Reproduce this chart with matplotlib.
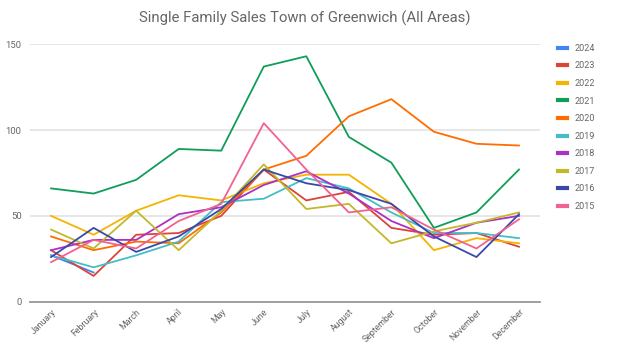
import numpy as np
import matplotlib.pyplot as plt

# ------------------------------------------------------------
# Data (monthly single family sales)
# ------------------------------------------------------------
months = ["January", "February", "March", "April", "May", "June",
          "July", "August", "September", "October", "November", "December"]

years = ["2024", "2023", "2022", "2021", "2020",
         "2019", "2018", "2017", "2016", "2015"]

sales_2024 = [27, 17]
sales_2023 = [30, 15, 39, 40, 50, 77, 59, 64, 43, 39, 40, 32]
sales_2022 = [50, 39, 53, 62, 59, 69, 74, 74, 57, 30, 37, 34]
sales_2021 = [66, 63, 71, 89, 88, 137, 143, 96, 81, 43, 52, 77]
sales_2020 = [38, 30, 35, 34, 52, 77, 85, 108, 118, 99, 92, 91]
sales_2019 = [27, 20, 27, 35, 58, 60, 72, 66, 52, 40, 40, 37]
sales_2018 = [30, 36, 36, 51, 55, 68, 76, 63, 47, 37, 46, 50]
sales_2017 = [42, 31, 53, 30, 53, 80, 54, 57, 34, 41, 46, 52]
sales_2016 = [26, 43, 29, 38, 54, 77, 69, 65, 57, 38, 26, 51]
sales_2015 = [23, 36, 31, 47, 57, 104, 77, 52, 55, 42, 31, 48]

series = [sales_2024, sales_2023, sales_2022, sales_2021, sales_2020,
          sales_2019, sales_2018, sales_2017, sales_2016, sales_2015]

colors = ["#4285f4", "#db4437", "#f4b400", "#0f9d58", "#ff6d01",
          "#46bdc6", "#ab30c4", "#c2b82a", "#3949ab", "#f06292"]

# ------------------------------------------------------------
# Plot
# ------------------------------------------------------------
plt.rcParams["font.family"] = ["Roboto", "DejaVu Sans"]

fig = plt.figure(figsize=(6.21, 3.57), dpi=100)
ax = fig.add_axes([0.048, 0.155, 0.822, 0.721])

x = np.arange(len(months))
lines = []
for year, vals, col in zip(years, series, colors):
    ln, = ax.plot(x[:len(vals)], vals, color=col, lw=1.3, label=year)
    lines.append(ln)

ax.set_xlim(-0.5, 11.5)
ax.set_ylim(0, 150)
ax.set_yticks([0, 50, 100, 150])
ax.set_xticks(x)
ax.set_xticklabels(months, rotation=45, ha="right", rotation_mode="anchor",
                   fontsize=6.3, color="#666666")
ax.tick_params(axis="y", labelsize=6.8, labelcolor="#666666", length=0, pad=6)
ax.tick_params(axis="x", length=0, pad=4)

ax.grid(axis="y", color="#e0e0e0", lw=1.1)
ax.set_axisbelow(True)
for side in ["top", "right", "left"]:
    ax.spines[side].set_visible(False)
ax.spines["bottom"].set_color("#999999")
ax.spines["bottom"].set_linewidth(1.3)

fig.text(0.49, 0.95, "Single Family Sales Town of Greenwich (All Areas)",
         ha="center", va="center", fontsize=10.7, color="#666666")

fig.legend(handles=lines, loc="upper left", bbox_to_anchor=(0.885, 0.9),
           frameon=False, fontsize=6.5, handlelength=1.0, handletextpad=0.9,
           labelspacing=0.95, labelcolor="#666666")
for h in fig.legends[0].legend_handles:
    h.set_linewidth(3)

fig.savefig("out.png", dpi=100)
